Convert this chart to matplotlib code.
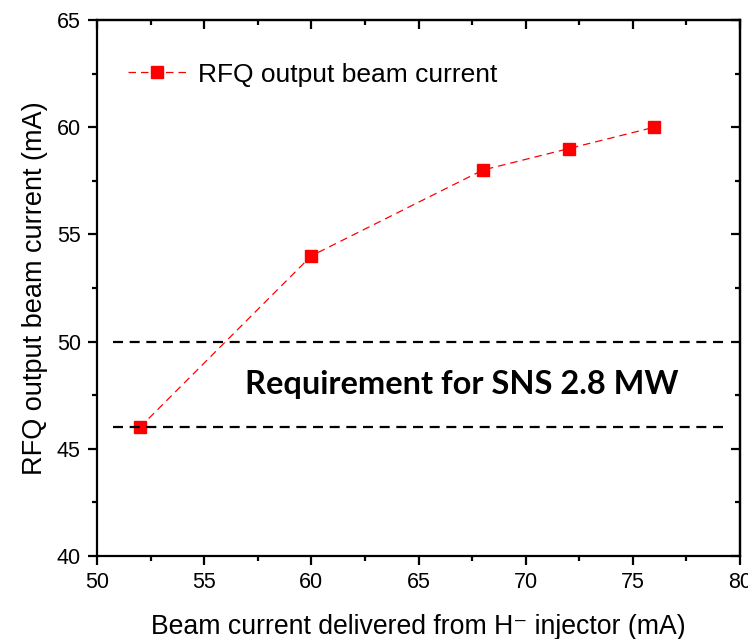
import matplotlib
matplotlib.use('Agg')
import matplotlib.pyplot as plt
from matplotlib.ticker import MultipleLocator

plt.rcParams['font.family'] = ['Liberation Sans', 'DejaVu Sans']

# injector current vs RFQ output current (mA)
injector_ma = [52, 60, 68, 72, 76]
rfq_out_ma = [46, 54, 58, 59, 60]

# SNS 2.8 MW requirement band (mA)
req_low = 46
req_high = 50
req_x = [50.75, 79.4]

fig = plt.figure(figsize=(7.48, 6.39), dpi=100)
ax = fig.add_axes([97 / 748, 83 / 639, 643 / 748, 536 / 639])

ax.plot(injector_ma, rfq_out_ma, color='red', lw=0.9, ls=(0, (6, 4)),
        marker='s', ms=8, mec='red', mfc='red', zorder=3,
        label='RFQ output beam current')

for yv in (req_low, req_high):
    ax.plot(req_x, [yv, yv], color='black', lw=1.6, ls=(0, (4.5, 3)), zorder=4)

ax.text(67.0, 48.0, 'Requirement for SNS 2.8 MW', ha='center', va='center',
        fontsize=23.4, fontweight='bold', family=['Lato', 'DejaVu Sans'])

ax.set_xlim(50, 80)
ax.set_ylim(40, 65)
ax.xaxis.set_major_locator(MultipleLocator(5))
ax.xaxis.set_minor_locator(MultipleLocator(2.5))
ax.yaxis.set_major_locator(MultipleLocator(5))
ax.yaxis.set_minor_locator(MultipleLocator(2.5))

for s in ax.spines.values():
    s.set_linewidth(1.6)

ax.tick_params(which='major', direction='out', length=6.7, width=1.6,
               labelsize=15.5, pad=5, top=False, right=False)
ax.tick_params(which='minor', direction='out', length=3.5, width=1.6,
               top=False, right=False)

# inward ticks on top and right, no labels
top = ax.secondary_xaxis('top')
top.xaxis.set_major_locator(MultipleLocator(5))
top.xaxis.set_minor_locator(MultipleLocator(2.5))
top.tick_params(which='major', direction='in', length=6.7, width=1.6, labeltop=False)
top.tick_params(which='minor', direction='in', length=3.5, width=1.6)
top.spines['top'].set_linewidth(1.6)

right = ax.secondary_yaxis('right')
right.yaxis.set_major_locator(MultipleLocator(5))
right.yaxis.set_minor_locator(MultipleLocator(2.5))
right.tick_params(which='major', direction='in', length=6.7, width=1.6, labelright=False)
right.tick_params(which='minor', direction='in', length=3.5, width=1.6)
right.spines['right'].set_linewidth(1.6)

ax.set_xlabel('Beam current delivered from H\u207b injector (mA)', fontsize=19.2, labelpad=15)
ax.set_ylabel('RFQ output beam current (mA)', fontsize=19.5, labelpad=6)

ax.legend(loc='upper left', bbox_to_anchor=(0.012, 0.965), frameon=False,
          fontsize=19, handlelength=2.2, handletextpad=0.45, markerscale=1.0)

fig.savefig('out.png', dpi=100)
